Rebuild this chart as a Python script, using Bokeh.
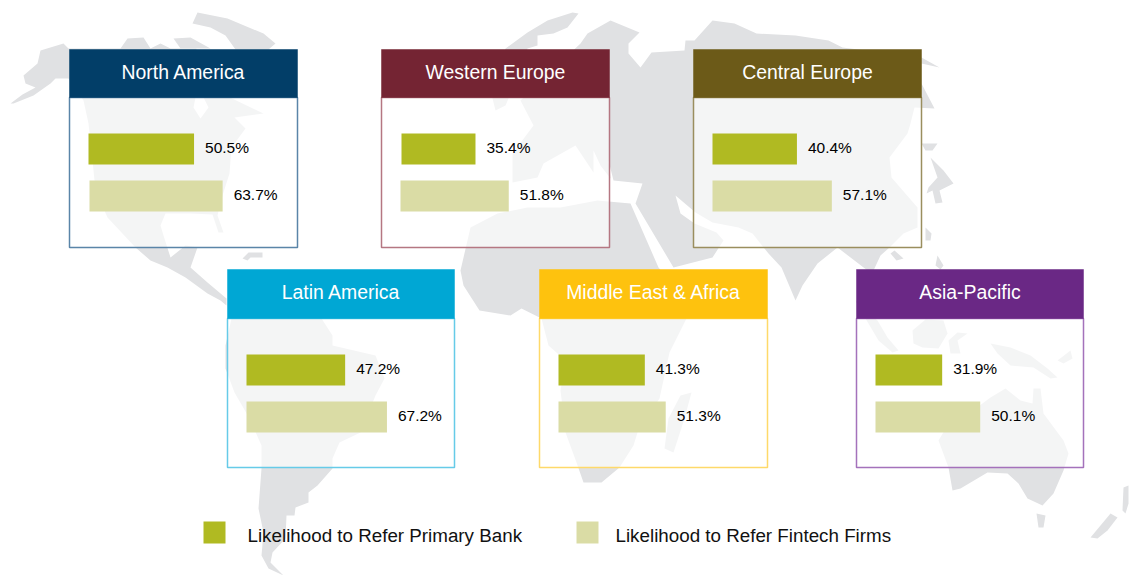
from bokeh.plotting import figure
from bokeh.models import Range1d
from bokeh.core.properties import value
from bokeh.embed import file_html
from bokeh.resources import INLINE

# ---- data ----
regions = ["North America", "Western Europe", "Central Europe",
           "Latin America", "Middle East & Africa", "Asia-Pacific"]
primary_bank = [50.5, 35.4, 40.4, 47.2, 41.3, 31.9]
fintech_firms = [63.7, 51.8, 57.1, 67.2, 51.3, 50.1]
legend_labels = ["Likelihood to Refer Primary Bank", "Likelihood to Refer Fintech Firms"]

# ---- layout and style ----
panel_left = [69, 381, 693, 227, 539, 856]
panel_right = [297, 609, 921, 454, 767, 1083]
panel_top = [49, 49, 49, 269, 269, 269]
panel_header_bottom = [97, 97, 97, 318, 318, 318]
panel_bottom = [247, 247, 247, 467, 467, 467]
header_colors = ["#023e68", "#742433", "#6c5a18", "#00a7d4", "#fec20e", "#6a2885"]
border_colors = ["#5a85a8", "#b57782", "#9a8e5e", "#66cbe8", "#fed96a", "#a472bb"]
bar_left_primary = [88, 401, 712, 246, 558, 875]
bar_left_fintech = [89, 400, 712, 246, 558, 875]
PX_PER_PCT = 2.09
PRIMARY = "#b0ba22"
FINTECH = "#dadca5"
MAP = "#e0e1e3"
FONT = value("Liberation Sans")

# ---- decorative world map, traced outlines in page pixels ----
world_map = [
    # North and Central America
    [(10,103),(22,94),(35,87),(25,83),(23,75),(37,63),(40,50),(63,43),(68,48),(120,48),(127,38),(143,37),
     (150,48),(160,43),(170,48),(196,48),(195,97),(193,107),(200,118),(208,107),(203,97),(215,90),(263,113),
     (234,117),(245,128),(231,147),(229,173),(222,195),(217,215),(223,232),(218,232),(212,214),(190,213),
     (165,213),(160,225),(163,235),(170,257),(185,245),(197,247),(190,267),(207,282),(226,298),(226,305),
     (220,300),(207,293),(185,277),(167,267),(150,260),(135,247),(107,217),(95,190),(92,160),(88,123),(83,100),
     (68,78),(55,78),(50,83),(33,95),(13,103)],
    # Arctic islands
    [(192,23),(197,12),(227,18),(263,33),(275,43),(268,49),(235,49),(225,35),(210,27)],
    [(173,38),(190,37),(210,48),(180,48)],
    # Cuba
    [(242,258),(248,252),(262,252),(262,257),(250,257),(247,260)],
    # South America
    [(231,300),(320,300),(321,318),(332,335),(332,345),(375,355),(384,378),(375,395),(360,432),(339,442),(332,458),
     (332,468),(317,485),(308,492),(308,502),(295,507),(294,515),(286,515),(285,538),(272,552),(270,562),(283,575),
     (268,568),(261,555),(263,532),(258,508),(261,468),(261,445),(249,418),(234,392),(225,368),(225,345),(231,318)],
    # Greenland
    [(505,48),(527,32),(547,20),(572,12),(578,13),(567,27),(553,33),(537,35),(537,45),(527,48),(520,70),(505,105),
     (495,110),(490,90)],
    # Eurasia
    [(580,43),(587,33),(610,20),(639,32),(628,43),(628,53),(640,67),(651,52),(684,50),(685,40),(694,40),(712,20),
     (734,23),(756,33),(795,35),(828,40),(842,47),(921,57),(939,67),(921,63),(921,83),(934,108),(914,107),(910,123),
     (907,133),(889,157),(891,177),(917,207),(917,227),(903,233),(889,247),(880,255),(873,270),(885,300),(870,300),
     (867,270),(837,247),(817,263),(802,285),(795,300),(781,267),(768,253),(752,233),(738,227),(712,222),(695,212),
     (675,195),(680,213),(694,223),(716,232),(723,240),(712,257),(673,267),(635,203),(642,183),(613,180),(608,160),
     (610,178),(600,165),(593,150),(593,172),(575,145),(543,163),(537,177),(512,182),(512,153),(533,125),(520,100)],
    # Africa
    [(470,227),(497,213),(527,207),(560,207),(597,200),(630,203),(658,267),(686,300),(686,318),(669,352),(659,398),
     (637,432),(633,445),(619,467),(601,482),(583,482),(576,462),(565,432),(560,390),(565,360),(548,345),(541,318),
     (521,308),(510,315),(479,310),(463,285),(460,270)],
    # Madagascar
    [(691,392),(684,418),(673,452),(664,448),(668,418),(680,395)],
    # Japan and nearby islands
    [(921,143),(937,143),(932,150),(925,150)],
    [(930,157),(943,170),(953,183),(939,190),(942,202),(935,203),(932,190),(926,193),(928,187),(937,177)],
    [(925,227),(931,233),(930,240),(925,240)],
    [(894,250),(903,258),(896,260),(890,253)],
    [(937,255),(943,265),(940,269),(935,265)],
    # South-East Asia
    [(855,300),(877,320),(887,337),(898,350),(892,352),(878,340),(865,318)],
    [(912,330),(925,319),(943,320),(947,333),(938,348),(922,347),(913,343)],
    [(957,332),(967,333),(957,340),(960,353),(950,353),(948,340)],
    [(990,343),(1010,347),(1030,355),(1047,368),(1057,377),(1050,378),(1033,367),(1010,365),(997,353)],
    [(1057,360),(1070,350),(1072,358),(1063,363)],
    # Australia, Tasmania, New Zealand
    [(990,397),(1005,388),(1020,400),(1032,403),(1033,388),(1040,388),(1043,413),(1063,440),(1068,453),(1063,470),
     (1053,493),(1042,505),(1027,498),(1018,483),(1007,473),(987,472),(960,488),(952,490),(948,467),(938,440),
     (950,420),(963,417)],
    [(1036,513),(1045,515),(1043,527),(1038,527)],
    [(1090,537),(1110,513),(1117,517),(1107,530),(1097,538)],
    [(1123,487),(1128,485),(1128,503),(1125,513),(1122,510)],
]

p = figure(width=1129, height=575, output_backend="svg", toolbar_location=None,
           x_range=Range1d(0, 1129), y_range=Range1d(575, 0), min_border=0)
p.xaxis.visible = False
p.yaxis.visible = False
p.grid.visible = False
p.outline_line_color = None
p.background_fill_color = "white"

p.patches([[c[0] for c in s] for s in world_map], [[c[1] for c in s] for s in world_map],
          fill_color=MAP, line_color=None)

# panels
p.quad(left=panel_left, right=panel_right, top=panel_header_bottom, bottom=panel_bottom,
       fill_color="white", fill_alpha=0.65, line_color=border_colors, line_width=1.5)
p.quad(left=panel_left, right=panel_right, top=panel_top, bottom=panel_header_bottom,
       fill_color=header_colors, line_color=header_colors, line_width=0.5)
p.text(x=[(a + b) / 2 for a, b in zip(panel_left, panel_right)],
       y=[(a + b) / 2 - 2 for a, b in zip(panel_top, panel_header_bottom)],
       text=regions, text_color="white", text_font=FONT, text_font_size=value("19.4px"),
       text_align="center", text_baseline="middle")

# bars
bar_thickness = 31
y_primary = [t + 84 + bar_thickness / 2 - (0 if t == 49 else -1) for t in panel_top]
y_fintech = [t + 131 + bar_thickness / 2 - (0 if t == 49 else -1) for t in panel_top]
for lefts, values, ys, color in [(bar_left_primary, primary_bank, y_primary, PRIMARY),
                                 (bar_left_fintech, fintech_firms, y_fintech, FINTECH)]:
    rights = [l + v * PX_PER_PCT for l, v in zip(lefts, values)]
    p.quad(left=lefts, right=rights, top=[y - bar_thickness / 2 for y in ys],
           bottom=[y + bar_thickness / 2 for y in ys], fill_color=color, line_color=None)
    p.text(x=[r + 11 for r in rights], y=[y - 1.5 for y in ys], text=[f"{v:.1f}%" for v in values],
           text_color="#000000", text_font=FONT, text_font_size=value("15.5px"),
           text_align="left", text_baseline="middle")

# legend
legend_swatch_left = [203, 576]
legend_text_left = [247, 615]
p.quad(left=legend_swatch_left, right=[x + 22 for x in legend_swatch_left], top=[521, 521], bottom=[543, 543],
       fill_color=[PRIMARY, FINTECH], line_color=None)
p.text(x=legend_text_left, y=[535, 535], text=legend_labels, text_color="#111111", text_font=FONT,
       text_font_size=value("18.8px"), text_align="left", text_baseline="middle")

open("out.html", "w").write(file_html(p, INLINE))
